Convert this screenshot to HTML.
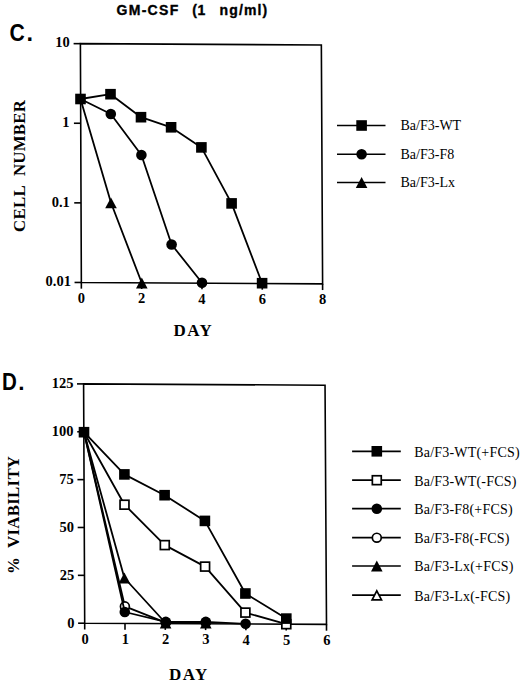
<!DOCTYPE html>
<html><head><meta charset="utf-8"><style>
html,body{margin:0;padding:0;background:#fff;width:520px;height:682px;overflow:hidden;}
svg{display:block;}
text{fill:#000;}
</style></head><body>
<svg width="520" height="682" viewBox="0 0 520 682">
<text transform="translate(116.50 15.40) scale(1 1)" font-family="'Liberation Sans', sans-serif" font-size="14" font-weight="bold" letter-spacing="1.3" stroke="#000" stroke-width="0.35">GM-CSF</text>
<text transform="translate(192.20 15.40) scale(1 1)" font-family="'Liberation Sans', sans-serif" font-size="14" font-weight="bold" letter-spacing="0.6" stroke="#000" stroke-width="0.35">(1</text>
<text transform="translate(219.50 15.40) scale(1 1)" font-family="'Liberation Sans', sans-serif" font-size="14" font-weight="bold" letter-spacing="1.15" stroke="#000" stroke-width="0.35">ng/ml)</text>
<text transform="translate(9.60 41.30) scale(0.9 1)" font-family="'Liberation Sans', sans-serif" font-size="23.5" font-weight="bold" >C</text>
<text transform="translate(26.40 41.30) scale(1 1)" font-family="'Liberation Sans', sans-serif" font-size="23.5" font-weight="bold" >.</text>
<text transform="translate(1.90 389.80) scale(0.87 1)" font-family="'Liberation Sans', sans-serif" font-size="23.6" font-weight="bold" >D</text>
<text transform="translate(18.30 389.70) scale(1 1)" font-family="'Liberation Sans', sans-serif" font-size="22.5" font-weight="bold" >.</text>
<polygon points="80.4,43.65 321.35,45 322.6,283.85 81.35,282.46" fill="none" stroke="#000" stroke-width="1.6"/>
<line x1="73.60" y1="43.65" x2="80.40" y2="43.65" stroke="#000" stroke-width="1.6"/>
<text x="69.80" y="47.15" font-family="'Liberation Serif', serif" font-size="14.5" font-weight="bold" text-anchor="end" >10</text>
<line x1="73.92" y1="123.25" x2="80.72" y2="123.25" stroke="#000" stroke-width="1.6"/>
<text x="69.52" y="127.15" font-family="'Liberation Serif', serif" font-size="14.5" font-weight="bold" text-anchor="end" >1</text>
<line x1="74.23" y1="202.86" x2="81.03" y2="202.86" stroke="#000" stroke-width="1.6"/>
<text x="69.83" y="206.76" font-family="'Liberation Serif', serif" font-size="14.5" font-weight="bold" text-anchor="end" >0.1</text>
<line x1="74.55" y1="282.46" x2="81.35" y2="282.46" stroke="#000" stroke-width="1.6"/>
<text x="70.95" y="286.36" font-family="'Liberation Serif', serif" font-size="14.5" font-weight="bold" text-anchor="end" >0.01</text>
<line x1="81.35" y1="282.46" x2="81.35" y2="288.66" stroke="#000" stroke-width="1.6"/>
<text x="81.35" y="303.06" font-family="'Liberation Serif', serif" font-size="14.5" font-weight="bold" text-anchor="middle" >0</text>
<line x1="141.66" y1="282.81" x2="141.66" y2="289.01" stroke="#000" stroke-width="1.6"/>
<text x="141.66" y="303.41" font-family="'Liberation Serif', serif" font-size="14.5" font-weight="bold" text-anchor="middle" >2</text>
<line x1="201.98" y1="283.15" x2="201.98" y2="289.35" stroke="#000" stroke-width="1.6"/>
<text x="201.98" y="303.75" font-family="'Liberation Serif', serif" font-size="14.5" font-weight="bold" text-anchor="middle" >4</text>
<line x1="262.29" y1="283.50" x2="262.29" y2="289.70" stroke="#000" stroke-width="1.6"/>
<text x="262.29" y="304.10" font-family="'Liberation Serif', serif" font-size="14.5" font-weight="bold" text-anchor="middle" >6</text>
<line x1="322.60" y1="283.85" x2="322.60" y2="290.05" stroke="#000" stroke-width="1.6"/>
<text x="322.60" y="304.45" font-family="'Liberation Serif', serif" font-size="14.5" font-weight="bold" text-anchor="middle" >8</text>
<text x="173.60" y="335.60" font-family="'Liberation Serif', serif" font-size="17" font-weight="bold" text-anchor="start" letter-spacing="1.4">DAY</text>
<text x="25.20" y="232.00" font-family="'Liberation Serif', serif" font-size="16.8" font-weight="bold" text-anchor="start" letter-spacing="0.3" transform="rotate(-90 25.2 232.0)">CELL&#160;&#160;NUMBER</text>
<polyline points="80.50,99.00 111.00,202.80 141.80,283.00" fill="none" stroke="#000" stroke-width="1.8" stroke-linejoin="round"/>
<polygon points="111.00,197.40 116.80,208.20 105.20,208.20" fill="#000"/>
<polygon points="141.80,277.60 147.60,288.40 136.00,288.40" fill="#000"/>
<polyline points="80.50,99.00 110.80,114.00 141.40,155.00 171.60,244.50 202.00,282.80" fill="none" stroke="#000" stroke-width="1.8" stroke-linejoin="round"/>
<circle cx="110.80" cy="114.00" r="5.30" fill="#000"/>
<circle cx="141.40" cy="155.00" r="5.30" fill="#000"/>
<circle cx="171.60" cy="244.50" r="5.30" fill="#000"/>
<circle cx="202.00" cy="282.80" r="5.30" fill="#000"/>
<polyline points="80.50,99.00 110.50,94.20 141.00,117.20 171.10,127.30 201.40,147.40 231.60,203.40 262.10,283.20" fill="none" stroke="#000" stroke-width="1.8" stroke-linejoin="round"/>
<rect x="75.20" y="93.70" width="10.60" height="10.60" fill="#000"/>
<rect x="105.20" y="88.90" width="10.60" height="10.60" fill="#000"/>
<rect x="135.70" y="111.90" width="10.60" height="10.60" fill="#000"/>
<rect x="165.80" y="122.00" width="10.60" height="10.60" fill="#000"/>
<rect x="196.10" y="142.10" width="10.60" height="10.60" fill="#000"/>
<rect x="226.30" y="198.10" width="10.60" height="10.60" fill="#000"/>
<rect x="256.80" y="277.90" width="10.60" height="10.60" fill="#000"/>
<line x1="337.00" y1="125.50" x2="385.50" y2="125.50" stroke="#000" stroke-width="1.7"/>
<rect x="356.30" y="120.20" width="10.60" height="10.60" fill="#000"/>
<text x="400.50" y="130.20" font-family="'Liberation Serif', serif" font-size="14" font-weight="normal" text-anchor="start" >Ba/F3-WT</text>
<line x1="337.00" y1="154.25" x2="385.50" y2="154.25" stroke="#000" stroke-width="1.7"/>
<circle cx="361.60" cy="154.25" r="5.30" fill="#000"/>
<text x="400.50" y="158.95" font-family="'Liberation Serif', serif" font-size="14" font-weight="normal" text-anchor="start" >Ba/F3-F8</text>
<line x1="337.00" y1="182.50" x2="385.50" y2="182.50" stroke="#000" stroke-width="1.7"/>
<polygon points="361.60,177.10 367.40,187.90 355.80,187.90" fill="#000"/>
<text x="400.50" y="187.20" font-family="'Liberation Serif', serif" font-size="14" font-weight="normal" text-anchor="start" >Ba/F3-Lx</text>
<polygon points="83.6,383.9 325.04,385.2 326.5,624.4 84.7,623.2" fill="none" stroke="#000" stroke-width="1.6"/>
<line x1="77.00" y1="383.90" x2="83.60" y2="383.90" stroke="#000" stroke-width="1.6"/>
<text x="73.40" y="388.20" font-family="'Liberation Serif', serif" font-size="14.5" font-weight="bold" text-anchor="end" >125</text>
<line x1="77.22" y1="431.76" x2="83.82" y2="431.76" stroke="#000" stroke-width="1.6"/>
<text x="73.62" y="436.06" font-family="'Liberation Serif', serif" font-size="14.5" font-weight="bold" text-anchor="end" >100</text>
<line x1="77.44" y1="479.62" x2="84.04" y2="479.62" stroke="#000" stroke-width="1.6"/>
<text x="73.84" y="483.92" font-family="'Liberation Serif', serif" font-size="14.5" font-weight="bold" text-anchor="end" >75</text>
<line x1="77.66" y1="527.48" x2="84.26" y2="527.48" stroke="#000" stroke-width="1.6"/>
<text x="74.06" y="531.78" font-family="'Liberation Serif', serif" font-size="14.5" font-weight="bold" text-anchor="end" >50</text>
<line x1="77.88" y1="575.34" x2="84.48" y2="575.34" stroke="#000" stroke-width="1.6"/>
<text x="74.28" y="579.64" font-family="'Liberation Serif', serif" font-size="14.5" font-weight="bold" text-anchor="end" >25</text>
<line x1="78.10" y1="623.20" x2="84.70" y2="623.20" stroke="#000" stroke-width="1.6"/>
<text x="74.50" y="627.50" font-family="'Liberation Serif', serif" font-size="14.5" font-weight="bold" text-anchor="end" >0</text>
<line x1="84.70" y1="623.20" x2="84.70" y2="629.50" stroke="#000" stroke-width="1.6"/>
<text x="85.00" y="643.80" font-family="'Liberation Serif', serif" font-size="14.5" font-weight="bold" text-anchor="middle" >0</text>
<line x1="125.00" y1="623.40" x2="125.00" y2="629.70" stroke="#000" stroke-width="1.6"/>
<text x="125.30" y="644.00" font-family="'Liberation Serif', serif" font-size="14.5" font-weight="bold" text-anchor="middle" >1</text>
<line x1="165.30" y1="623.60" x2="165.30" y2="629.90" stroke="#000" stroke-width="1.6"/>
<text x="165.60" y="644.20" font-family="'Liberation Serif', serif" font-size="14.5" font-weight="bold" text-anchor="middle" >2</text>
<line x1="205.60" y1="623.80" x2="205.60" y2="630.10" stroke="#000" stroke-width="1.6"/>
<text x="205.90" y="644.40" font-family="'Liberation Serif', serif" font-size="14.5" font-weight="bold" text-anchor="middle" >3</text>
<line x1="245.90" y1="624.00" x2="245.90" y2="630.30" stroke="#000" stroke-width="1.6"/>
<text x="246.20" y="644.60" font-family="'Liberation Serif', serif" font-size="14.5" font-weight="bold" text-anchor="middle" >4</text>
<line x1="286.20" y1="624.20" x2="286.20" y2="630.50" stroke="#000" stroke-width="1.6"/>
<text x="286.50" y="644.80" font-family="'Liberation Serif', serif" font-size="14.5" font-weight="bold" text-anchor="middle" >5</text>
<line x1="326.50" y1="624.40" x2="326.50" y2="630.70" stroke="#000" stroke-width="1.6"/>
<text x="326.80" y="645.00" font-family="'Liberation Serif', serif" font-size="14.5" font-weight="bold" text-anchor="middle" >6</text>
<text x="169.10" y="679.80" font-family="'Liberation Serif', serif" font-size="17" font-weight="bold" text-anchor="start" letter-spacing="1.4">DAY</text>
<text x="19.40" y="574.00" font-family="'Liberation Serif', serif" font-size="16.8" font-weight="bold" text-anchor="start" letter-spacing="0.3" transform="rotate(-90 19.4 574.0)">%&#160;&#160;VIABILITY</text>
<polyline points="84.00,432.20 124.40,578.00 165.60,623.00 205.80,623.20" fill="none" stroke="#000" stroke-width="1.8" stroke-linejoin="round"/>
<polygon points="124.40,572.60 130.20,583.40 118.60,583.40" fill="#000"/>
<polygon points="165.60,617.60 171.40,628.40 159.80,628.40" fill="#000"/>
<polygon points="205.80,617.80 211.60,628.60 200.00,628.60" fill="#000"/>
<polyline points="84.00,432.20 124.90,606.40 165.80,622.60 205.80,622.60" fill="none" stroke="#000" stroke-width="1.8" stroke-linejoin="round"/>
<circle cx="124.90" cy="606.40" r="4.45" fill="#fff" stroke="#000" stroke-width="1.7"/>
<circle cx="165.80" cy="622.60" r="4.45" fill="#fff" stroke="#000" stroke-width="1.7"/>
<circle cx="205.80" cy="622.60" r="4.45" fill="#fff" stroke="#000" stroke-width="1.7"/>
<polyline points="84.00,432.20 124.80,612.00 165.80,621.90 205.80,621.90 245.60,623.80" fill="none" stroke="#000" stroke-width="1.8" stroke-linejoin="round"/>
<circle cx="124.80" cy="612.00" r="5.30" fill="#000"/>
<circle cx="165.80" cy="621.90" r="5.30" fill="#000"/>
<circle cx="205.80" cy="621.90" r="5.30" fill="#000"/>
<circle cx="245.60" cy="623.80" r="5.30" fill="#000"/>
<polyline points="84.00,432.20 124.50,504.70 164.80,545.10 205.10,566.60 245.40,612.60 286.30,624.20" fill="none" stroke="#000" stroke-width="1.8" stroke-linejoin="round"/>
<rect x="120.05" y="500.25" width="8.90" height="8.90" fill="#fff" stroke="#000" stroke-width="1.7"/>
<rect x="160.35" y="540.65" width="8.90" height="8.90" fill="#fff" stroke="#000" stroke-width="1.7"/>
<rect x="200.65" y="562.15" width="8.90" height="8.90" fill="#fff" stroke="#000" stroke-width="1.7"/>
<rect x="240.95" y="608.15" width="8.90" height="8.90" fill="#fff" stroke="#000" stroke-width="1.7"/>
<rect x="281.85" y="619.75" width="8.90" height="8.90" fill="#fff" stroke="#000" stroke-width="1.7"/>
<polyline points="84.00,432.20 124.40,474.40 164.60,495.20 204.90,520.90 245.40,593.50 286.30,618.60" fill="none" stroke="#000" stroke-width="1.8" stroke-linejoin="round"/>
<rect x="78.70" y="426.90" width="10.60" height="10.60" fill="#000"/>
<rect x="119.10" y="469.10" width="10.60" height="10.60" fill="#000"/>
<rect x="159.30" y="489.90" width="10.60" height="10.60" fill="#000"/>
<rect x="199.60" y="515.60" width="10.60" height="10.60" fill="#000"/>
<rect x="240.10" y="588.20" width="10.60" height="10.60" fill="#000"/>
<rect x="281.00" y="613.30" width="10.60" height="10.60" fill="#000"/>
<line x1="352.10" y1="451.30" x2="400.80" y2="451.30" stroke="#000" stroke-width="1.7"/>
<rect x="371.50" y="446.00" width="10.60" height="10.60" fill="#000"/>
<text x="414.20" y="456.70" font-family="'Liberation Serif', serif" font-size="14" font-weight="normal" text-anchor="start" letter-spacing="0.2">Ba/F3-WT(+FCS)</text>
<line x1="352.10" y1="480.20" x2="400.80" y2="480.20" stroke="#000" stroke-width="1.7"/>
<rect x="372.35" y="475.75" width="8.90" height="8.90" fill="#fff" stroke="#000" stroke-width="1.7"/>
<text x="414.20" y="485.60" font-family="'Liberation Serif', serif" font-size="14" font-weight="normal" text-anchor="start" letter-spacing="0.2">Ba/F3-WT(-FCS)</text>
<line x1="352.10" y1="508.70" x2="400.80" y2="508.70" stroke="#000" stroke-width="1.7"/>
<circle cx="376.80" cy="508.70" r="5.30" fill="#000"/>
<text x="414.20" y="514.10" font-family="'Liberation Serif', serif" font-size="14" font-weight="normal" text-anchor="start" letter-spacing="0.2">Ba/F3-F8(+FCS)</text>
<line x1="352.10" y1="537.70" x2="400.80" y2="537.70" stroke="#000" stroke-width="1.7"/>
<circle cx="376.80" cy="537.70" r="4.45" fill="#fff" stroke="#000" stroke-width="1.7"/>
<text x="414.20" y="543.10" font-family="'Liberation Serif', serif" font-size="14" font-weight="normal" text-anchor="start" letter-spacing="0.2">Ba/F3-F8(-FCS)</text>
<line x1="352.10" y1="566.00" x2="400.80" y2="566.00" stroke="#000" stroke-width="1.7"/>
<polygon points="376.80,560.60 382.60,571.40 371.00,571.40" fill="#000"/>
<text x="414.20" y="571.40" font-family="'Liberation Serif', serif" font-size="14" font-weight="normal" text-anchor="start" letter-spacing="0.2">Ba/F3-Lx(+FCS)</text>
<line x1="352.10" y1="595.10" x2="400.80" y2="595.10" stroke="#000" stroke-width="1.7"/>
<polygon points="376.80,590.90 381.50,599.80 372.10,599.80" fill="#fff" stroke="#000" stroke-width="1.7" stroke-linejoin="miter"/>
<text x="414.20" y="600.50" font-family="'Liberation Serif', serif" font-size="14" font-weight="normal" text-anchor="start" letter-spacing="0.2">Ba/F3-Lx(-FCS)</text>
</svg>
</body></html>
